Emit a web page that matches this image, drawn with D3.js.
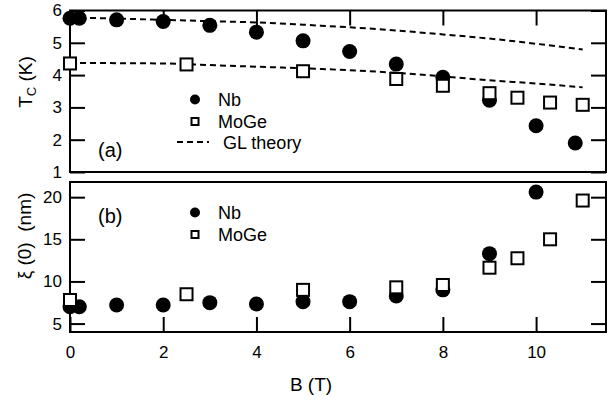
<!DOCTYPE html>
<html>
<head>
<meta charset="utf-8">
<script src="https://cdn.jsdelivr.net/npm/d3@7"></script>
<style>
  html, body { margin: 0; padding: 0; background: #fff; }
  svg { display: block; font-family: "Liberation Sans", Arial, sans-serif; }
</style>
</head>
<body>
<svg id="chart" width="616" height="402"></svg>
<script>
// ---- data ----
const nbTcB   = [0, 0.2, 1, 2, 3, 4, 5, 6, 7, 8, 9, 10, 10.84];
const nbTc    = [5.76, 5.76, 5.71, 5.66, 5.54, 5.33, 5.06, 4.73, 4.34, 3.93, 3.22, 2.43, 1.9];
const mogeTcB = [0, 2.5, 5, 7, 8, 9, 9.6, 10.3, 11];
const mogeTc  = [4.36, 4.33, 4.12, 3.88, 3.67, 3.44, 3.3, 3.15, 3.08];
const glB     = [0, 1, 2, 3, 4, 5, 6, 7, 8, 9, 10, 11];
const glNb    = [5.78, 5.75, 5.71, 5.67, 5.63, 5.56, 5.48, 5.38, 5.26, 5.13, 4.97, 4.79];
const glMoGe  = [4.38, 4.37, 4.36, 4.31, 4.26, 4.21, 4.15, 4.07, 3.96, 3.84, 3.74, 3.62];
const nbXiB   = [0, 0.2, 1, 2, 3, 4, 5, 6, 7, 8, 9, 10];
const nbXi    = [7.0, 7.0, 7.2, 7.2, 7.48, 7.33, 7.6, 7.6, 8.27, 9.0, 13.3, 20.6];
const mogeXiB = [0, 2.5, 5, 7, 8, 9, 9.6, 10.3, 11];
const mogeXi  = [7.8, 8.48, 9.0, 9.3, 9.58, 11.63, 12.75, 15.0, 19.6];
const xTicks    = [0, 2, 4, 6, 8, 10];
const yTopTicks = [1, 2, 3, 4, 5, 6];
const yBotTicks = [5, 10, 15, 20];

// ---- scales ----
const svg = d3.select("#chart");
const x = d3.scaleLinear().domain([0, 11.5]).range([70, 606]);
const yT = d3.scaleLinear().domain([1, 6]).range([172, 10.5]);
const yB = d3.scaleLinear().domain([4, 21.8]).range([332, 182]);

const TICK = 15;
function styleAxis(g, showLabels) {
  g.select(".domain").remove();
  g.selectAll(".tick line").attr("stroke", "#000").attr("stroke-width", 2);
  g.selectAll(".tick text").attr("fill", "#000").style("font-size", "17px");
  if (!showLabels) g.selectAll(".tick text").remove();
}

// top panel axes
svg.append("g").attr("transform", `translate(${x(0)},0)`)
  .call(d3.axisLeft(yT).tickValues(yTopTicks).tickFormat(d3.format("d")).tickSizeInner(-TICK).tickSizeOuter(0).tickPadding(8))
  .call(g => styleAxis(g, true));
svg.append("g").attr("transform", `translate(${x(11.5)},0)`)
  .call(d3.axisRight(yT).tickValues(yTopTicks).tickSizeInner(-TICK).tickSizeOuter(0))
  .call(g => styleAxis(g, false));
svg.append("g").attr("transform", `translate(0,${yT(6)})`)
  .call(d3.axisTop(x).tickValues(xTicks).tickSizeInner(-TICK).tickSizeOuter(0))
  .call(g => styleAxis(g, false));

// bottom panel axes
svg.append("g").attr("transform", `translate(${x(0)},0)`)
  .call(d3.axisLeft(yB).tickValues(yBotTicks).tickFormat(d3.format("d")).tickSizeInner(-TICK).tickSizeOuter(0).tickPadding(8))
  .call(g => styleAxis(g, true));
svg.append("g").attr("transform", `translate(${x(11.5)},0)`)
  .call(d3.axisRight(yB).tickValues(yBotTicks).tickSizeInner(-TICK).tickSizeOuter(0))
  .call(g => styleAxis(g, false));
svg.append("g").attr("transform", `translate(0,${yB(4)})`)
  .call(d3.axisBottom(x).tickValues(xTicks).tickFormat(d3.format("d")).tickSizeInner(-TICK).tickSizeOuter(0).tickPadding(14))
  .call(g => styleAxis(g, true));

// frames
[[yT(6), yT(1)], [yB(21.8), yB(4)]].forEach(([t, b]) => {
  svg.append("rect").attr("x", x(0)).attr("y", t).attr("width", x(11.5) - x(0)).attr("height", b - t)
    .attr("fill", "none").attr("stroke", "#000").attr("stroke-width", 2);
});

// GL theory lines
const glLine = (arr) => d3.line().x((d, i) => x(glB[i])).y(d => yT(d)).curve(d3.curveMonotoneX)(arr);
[glNb, glMoGe].forEach(arr => {
  svg.append("path").attr("d", glLine(arr)).attr("fill", "none").attr("stroke", "#000")
    .attr("stroke-width", 2).attr("stroke-dasharray", "6,4");
});

// markers
function dots(bs, vs, yS) {
  svg.append("g").selectAll("circle").data(vs).join("circle")
    .attr("cx", (d, i) => x(bs[i])).attr("cy", d => yS(d)).attr("r", 7.5).attr("fill", "#000");
}
function squares(bs, vs, yS) {
  svg.append("g").selectAll("rect").data(vs).join("rect")
    .attr("x", (d, i) => x(bs[i]) - 6).attr("y", d => yS(d) - 6).attr("width", 12).attr("height", 12)
    .attr("fill", "#fff").attr("stroke", "#000").attr("stroke-width", 2);
}
dots(nbTcB, nbTc, yT);
squares(mogeTcB, mogeTc, yT);
dots(nbXiB, nbXi, yB);
squares(mogeXiB, mogeXi, yB);

// legends
function legend(y0, withGL) {
  const g = svg.append("g").style("font-size", "18px");
  g.append("circle").attr("cx", 195).attr("cy", y0).attr("r", 5).attr("fill", "#000");
  g.append("text").attr("x", 218).attr("y", y0 + 6.5).text("Nb");
  g.append("rect").attr("x", 191.5).attr("y", y0 + 22 - 3.5).attr("width", 7).attr("height", 7)
    .attr("fill", "#fff").attr("stroke", "#000").attr("stroke-width", 2);
  g.append("text").attr("x", 218).attr("y", y0 + 28.5).text("MoGe");
  if (withGL) {
    g.append("line").attr("x1", 177).attr("x2", 209).attr("y1", y0 + 42.5).attr("y2", y0 + 42.5)
      .attr("stroke", "#000").attr("stroke-width", 2).attr("stroke-dasharray", "6,4");
    g.append("text").attr("x", 223).attr("y", y0 + 49).text("GL theory");
  }
}
legend(99.5, true);
legend(212.5, false);

// panel labels
svg.append("text").attr("x", 98).attr("y", 157).style("font-size", "20px").text("(a)");
svg.append("text").attr("x", 98).attr("y", 223).style("font-size", "20px").text("(b)");

// axis titles
svg.append("text").attr("x", 311).attr("y", 391).attr("text-anchor", "middle").style("font-size", "19px").text("B (T)");
const tc = svg.append("text").attr("transform", "translate(32,82) rotate(-90)").attr("text-anchor", "middle").style("font-size", "19px");
tc.append("tspan").text("T");
tc.append("tspan").attr("dy", 4).style("font-size", "13px").text("C");
tc.append("tspan").attr("dy", -4).text(" (K)");
svg.append("text").attr("transform", "translate(31,236) rotate(-90)").attr("text-anchor", "middle")
  .style("font-size", "19px").style("white-space", "pre").attr("xml:space", "preserve").text("\u03BE (0)  (nm)");
</script>
</body>
</html>
